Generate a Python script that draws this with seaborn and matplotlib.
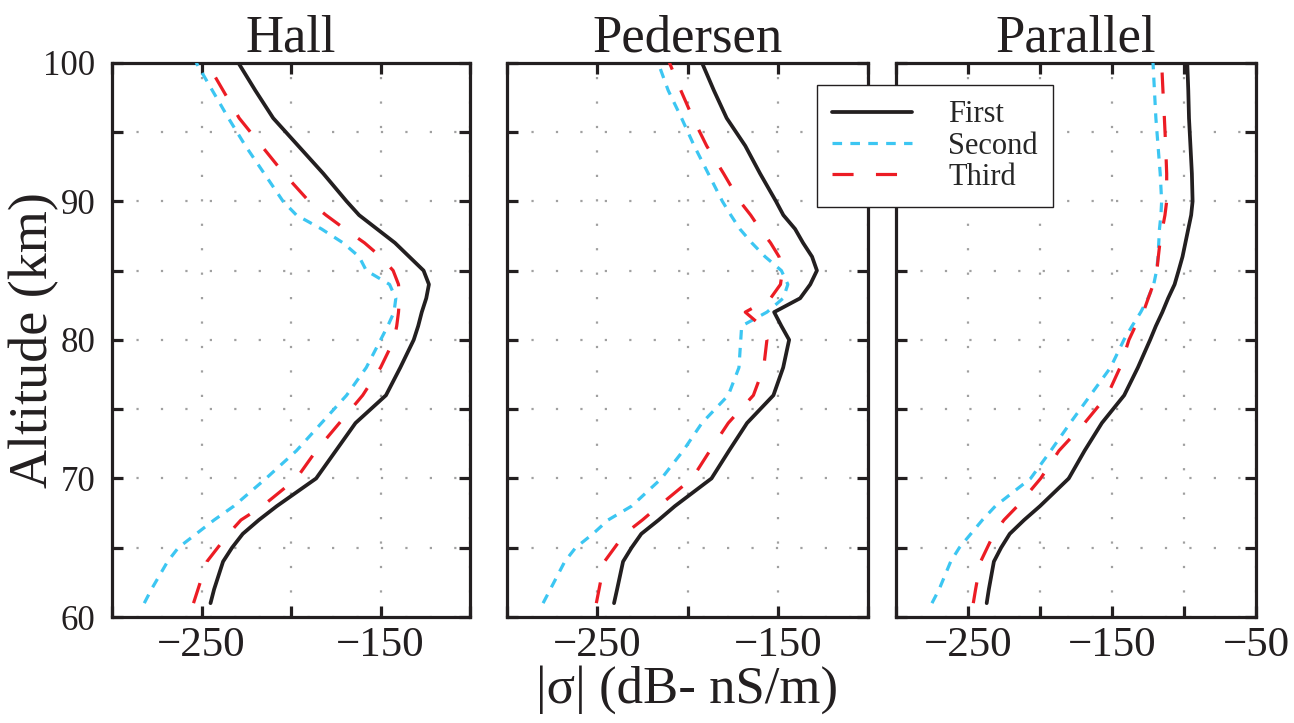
import matplotlib
matplotlib.use("Agg")
import matplotlib.pyplot as plt
import seaborn as sns
import pandas as pd
from matplotlib.ticker import MultipleLocator, FuncFormatter

# ---------------- data ----------------
altitude = [61, 62, 64, 65, 66, 67, 68, 70, 72, 74, 76, 78, 80, 81, 82, 83,
            84, 85, 86, 87, 88, 89, 90, 92, 94, 96, 98, 100]

panels = ["Hall", "Pedersen", "Parallel"]
series_names = ["First", "Second", "Third"]

hall_first = [-245, -243, -238, -233, -227, -218, -208, -186, -175, -164, -147, -139,
              -131.5, -129, -127, -124.5, -123, -126, -134, -142, -152, -162, -169,
              -182, -196, -210, -220, -229.5]
hall_second = [-282, -278, -269, -263, -253, -243, -232, -214, -197, -183, -169, -158,
               -150, -146, -142.5, -141.5, -145, -158, -162, -171, -183, -197, -204.5,
               -215, -225.5, -235, -244, -253]
hall_third = [-254.5, -252, -247, -241, -235, -228, -216, -197, -186, -173, -160, -150,
              -142.5, -141, -140, -139.5, -140, -143, -150, -159, -170, -180.5, -190,
              -204, -216.5, -229, -238, -247]

pedersen_first = [-240.7, -239, -235.7, -231, -225.6, -216, -207, -186.7, -177, -167,
                  -152.4, -147, -143.7, -148, -152, -137.6, -132, -128.3, -131, -136,
                  -140.4, -146.9, -151, -159.8, -168, -178.3, -185.4, -192]
pedersen_second = [-280, -276, -268, -262, -252.4, -244, -231, -214.4, -202.4, -192,
                   -177.4, -171.5, -170.5, -170, -156, -147, -144.4, -148, -157, -164.4,
                   -171, -176, -180.7, -188.5, -196.3, -203.3, -210.7, -216.3]
pedersen_third = [-250.5, -249, -246, -240.4, -234.8, -225, -216, -197.4, -187.6, -177.4,
                  -163.5, -157.8, -156, -159, -168, -154, -148.5, -147.4, -149.3, -154,
                  -159.8, -165, -171, -180, -189.4, -197, -203.7, -210]

parallel_first = [-237, -235.5, -232, -227, -221, -211, -200, -180, -169, -157, -141.5,
                  -132, -123.5, -119.5, -115, -111, -106.5, -103.7, -101, -99, -97, -95,
                  -94, -94.5, -95.5, -96.5, -97, -97.7]
parallel_second = [-275, -270, -262, -256, -248, -240, -231, -206.5, -192.5, -179, -165,
                   -151, -141.7, -136, -130, -125, -121, -119, -118, -117.5, -117, -116,
                   -115.5, -116.5, -118, -119.5, -120.5, -121.5]
parallel_third = [-246.3, -244.7, -241.2, -236.6, -232, -225, -215.7, -199.5, -186.8,
                  -169, -153.2, -144.4, -138.2, -133.7, -128.2, -124.8, -121.3, -118.8,
                  -117.8, -116.7, -115, -113.2, -112, -112, -112.7, -113.6, -114.6, -115.5]

x_limits = {"Hall": (-300, -100), "Pedersen": (-300, -100), "Parallel": (-300, -50)}
x_labelled = {"Hall": [-250, -150], "Pedersen": [-250, -150], "Parallel": [-250, -150, -50]}
y_labelled = [60, 70, 80, 90, 100]

panel_series = {
    "Hall": [hall_first, hall_second, hall_third],
    "Pedersen": [pedersen_first, pedersen_second, pedersen_third],
    "Parallel": [parallel_first, parallel_second, parallel_third],
}

# ---------------- style ----------------
sns.set_theme(style="white")
plt.rcParams["font.family"] = ["Liberation Serif", "DejaVu Serif"]
plt.rcParams["axes.unicode_minus"] = True

palette = {"First": "#231F20", "Second": "#3CC6F2", "Third": "#EC1C24"}
dashes = {"First": "", "Second": (3.0, 2.6), "Third": (6.6, 7.0)}
widths = {"First": 2.7, "Second": 2.3, "Third": 2.3}

fig = plt.figure(figsize=(12.94, 7.23), dpi=100)
bottom, height = 0.1466, 0.7667
lefts = [0.0866, 0.3918, 0.6924]
wids = [0.2767, 0.2790, 0.2782]

axes = []
for i, name in enumerate(panels):
    ax = fig.add_axes([lefts[i], bottom, wids[i], height])
    axes.append(ax)
    rows = []
    for s, vals in zip(series_names, panel_series[name]):
        for a, v in zip(altitude, vals):
            rows.append({"alt": a, "val": v, "series": s})
    df = pd.DataFrame(rows)
    for s in series_names:
        sub = df[df["series"] == s]
        sns.lineplot(data=sub, x="val", y="alt", sort=False, estimator=None,
                     color=palette[s], lw=widths[s], ax=ax, label=s,
                     legend=False, zorder=3)
        line = ax.get_lines()[-1]
        if dashes[s]:
            line.set_dashes(dashes[s])
            line.set_dash_capstyle("butt")

    ax.set_xlim(*x_limits[name])
    ax.set_ylim(60, 100)
    ax.xaxis.set_major_locator(MultipleLocator(50))
    ax.yaxis.set_major_locator(MultipleLocator(5))
    lab = x_labelled[name]
    ax.xaxis.set_major_formatter(FuncFormatter(
        lambda v, p, lab=lab: ("\u2212%d" % abs(v)) if any(abs(v - l) < 1e-6 for l in lab) else ""))
    if i == 0:
        ax.yaxis.set_major_formatter(FuncFormatter(
            lambda v, p: "%d" % v if any(abs(v - l) < 1e-6 for l in y_labelled) else ""))
    else:
        ax.yaxis.set_major_formatter(FuncFormatter(lambda v, p: ""))
    ax.set_xlabel("")
    ax.set_ylabel("")
    ax.grid(True, linestyle=(0, (1, 10)), color="#a0a0a0", lw=1.6)
    ax.set_axisbelow(True)
    for sp in ax.spines.values():
        sp.set_color("#231F20")
        sp.set_linewidth(2.3)
        sp.set_visible(True)
    ax.tick_params(axis="both", direction="in", length=8, width=2.3,
                   top=True, right=True, bottom=True, left=True, color="#231F20")
    ax.tick_params(axis="x", labelsize=31, pad=7, labelcolor="#231F20")
    ax.tick_params(axis="y", labelsize=25, pad=12, labelcolor="#231F20")
    ax.set_title(name, fontsize=38, pad=8, color="#231F20")

fig.text(34 / 1294, 1 - 340 / 723, "Altitude (km)", rotation=90, fontsize=39,
         ha="center", va="center", color="#231F20")
fig.text(687 / 1294, 1 - 690 / 723, "|\u03c3| (dB- nS/m)", fontsize=38,
         ha="center", va="center", color="#231F20")

handles = axes[-1].get_lines()[:3]
leg = fig.legend(handles, series_names, loc="upper left",
                 bbox_to_anchor=(817 / 1294, 1 - 85 / 723), borderaxespad=0.0,
                 fontsize=22, frameon=True, fancybox=False, framealpha=1,
                 edgecolor="#231F20", handlelength=2.6, handletextpad=1.2,
                 labelspacing=0.08, borderpad=0.5)
leg.get_frame().set_linewidth(1.0)
leg.set_zorder(10)

fig.savefig("out.png", dpi=100)
